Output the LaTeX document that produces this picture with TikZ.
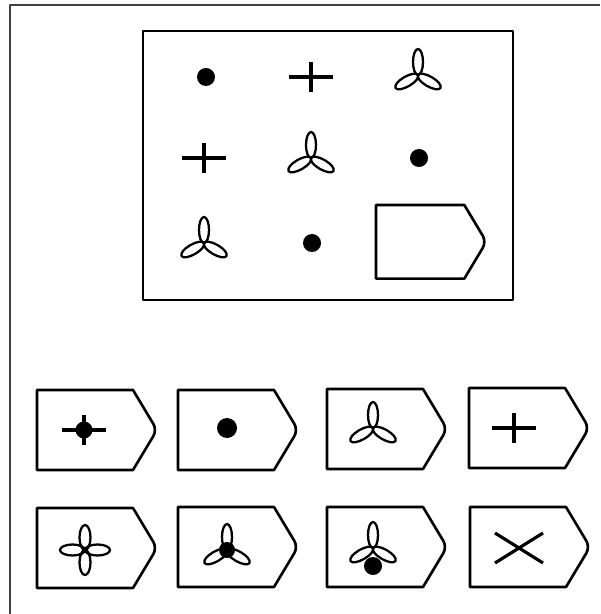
\documentclass[tikz,border=0pt]{standalone}
\usepackage{tikz}

\begin{document}
\begin{tikzpicture}[
  x=0.02cm, y=-0.02cm,
  line join=round,
  edge/.style={line width=1.5pt},
  stroke/.style={line width=1.8pt},
  petal/.style={line width=1.3pt},
  pics/blob/.style={code={\fill (0,0) circle (#1);}},
  pics/plus/.style={code={\draw[stroke] (-22,0) -- (22,0) (0,-15) -- (0,15);}},
  pics/cross/.style={code={\draw[stroke] (-24,-15) -- (24,15) (-24,15) -- (24,-15);}},
  pics/trefoil/.style={code={\foreach \a in {90,210,330}
      \draw[petal,rotate=\a] (13,0) ellipse [x radius=13,y radius=5];}},
  pics/quatrefoil/.style={code={\foreach \a in {0,90,180,270}
      \draw[petal,rotate=\a] (12.5,0) ellipse [x radius=12.5,y radius=5.5];}},
  pics/tag/.style={code={\draw[edge] (0,0) -- (96,0) [rounded corners=4pt] -- (120,40) [sharp corners] -- (96,80) -- (0,80) -- cycle;}}
]
\useasboundingbox (0,0) rectangle (600,614);
% outer frame
\draw[black!75,line width=1.2pt] (10,614) -- (10,5) -- (600,5);

% the matrix
\draw[edge] (143,31) rectangle (513,300);
\pic at (206,77) {blob=9};
\pic at (311,77) {plus};
\pic at (418,75) {trefoil};
\pic at (204,158) {plus};
\pic at (311,158) {trefoil};
\pic at (419,158) {blob=9};
\pic at (204,243) {trefoil};
\pic at (312,243) {blob=9};
\pic[scale=0.92] at (376,205) {tag};

% answers, first row
\pic at (37,390) {tag};
\pic at (84,430) {plus};
\pic at (84,430) {blob=8.5};
\pic at (178,390) {tag};
\pic at (227,428) {blob=10};
\pic at (327,389) {tag};
\pic at (373,428) {trefoil};
\pic at (469,388) {tag};
\pic at (514,428) {plus};

% answers, second row
\pic at (37,508) {tag};
\pic at (85,550) {quatrefoil};
\pic at (178,507) {tag};
\pic at (227,550) {trefoil};
\pic at (227,550) {blob=8};
\pic at (327,507) {tag};
\pic at (373,548) {trefoil};
\pic at (373,566) {blob=9};
\pic at (470,507) {tag};
\pic at (519,548) {cross};
\end{tikzpicture}
\end{document}
